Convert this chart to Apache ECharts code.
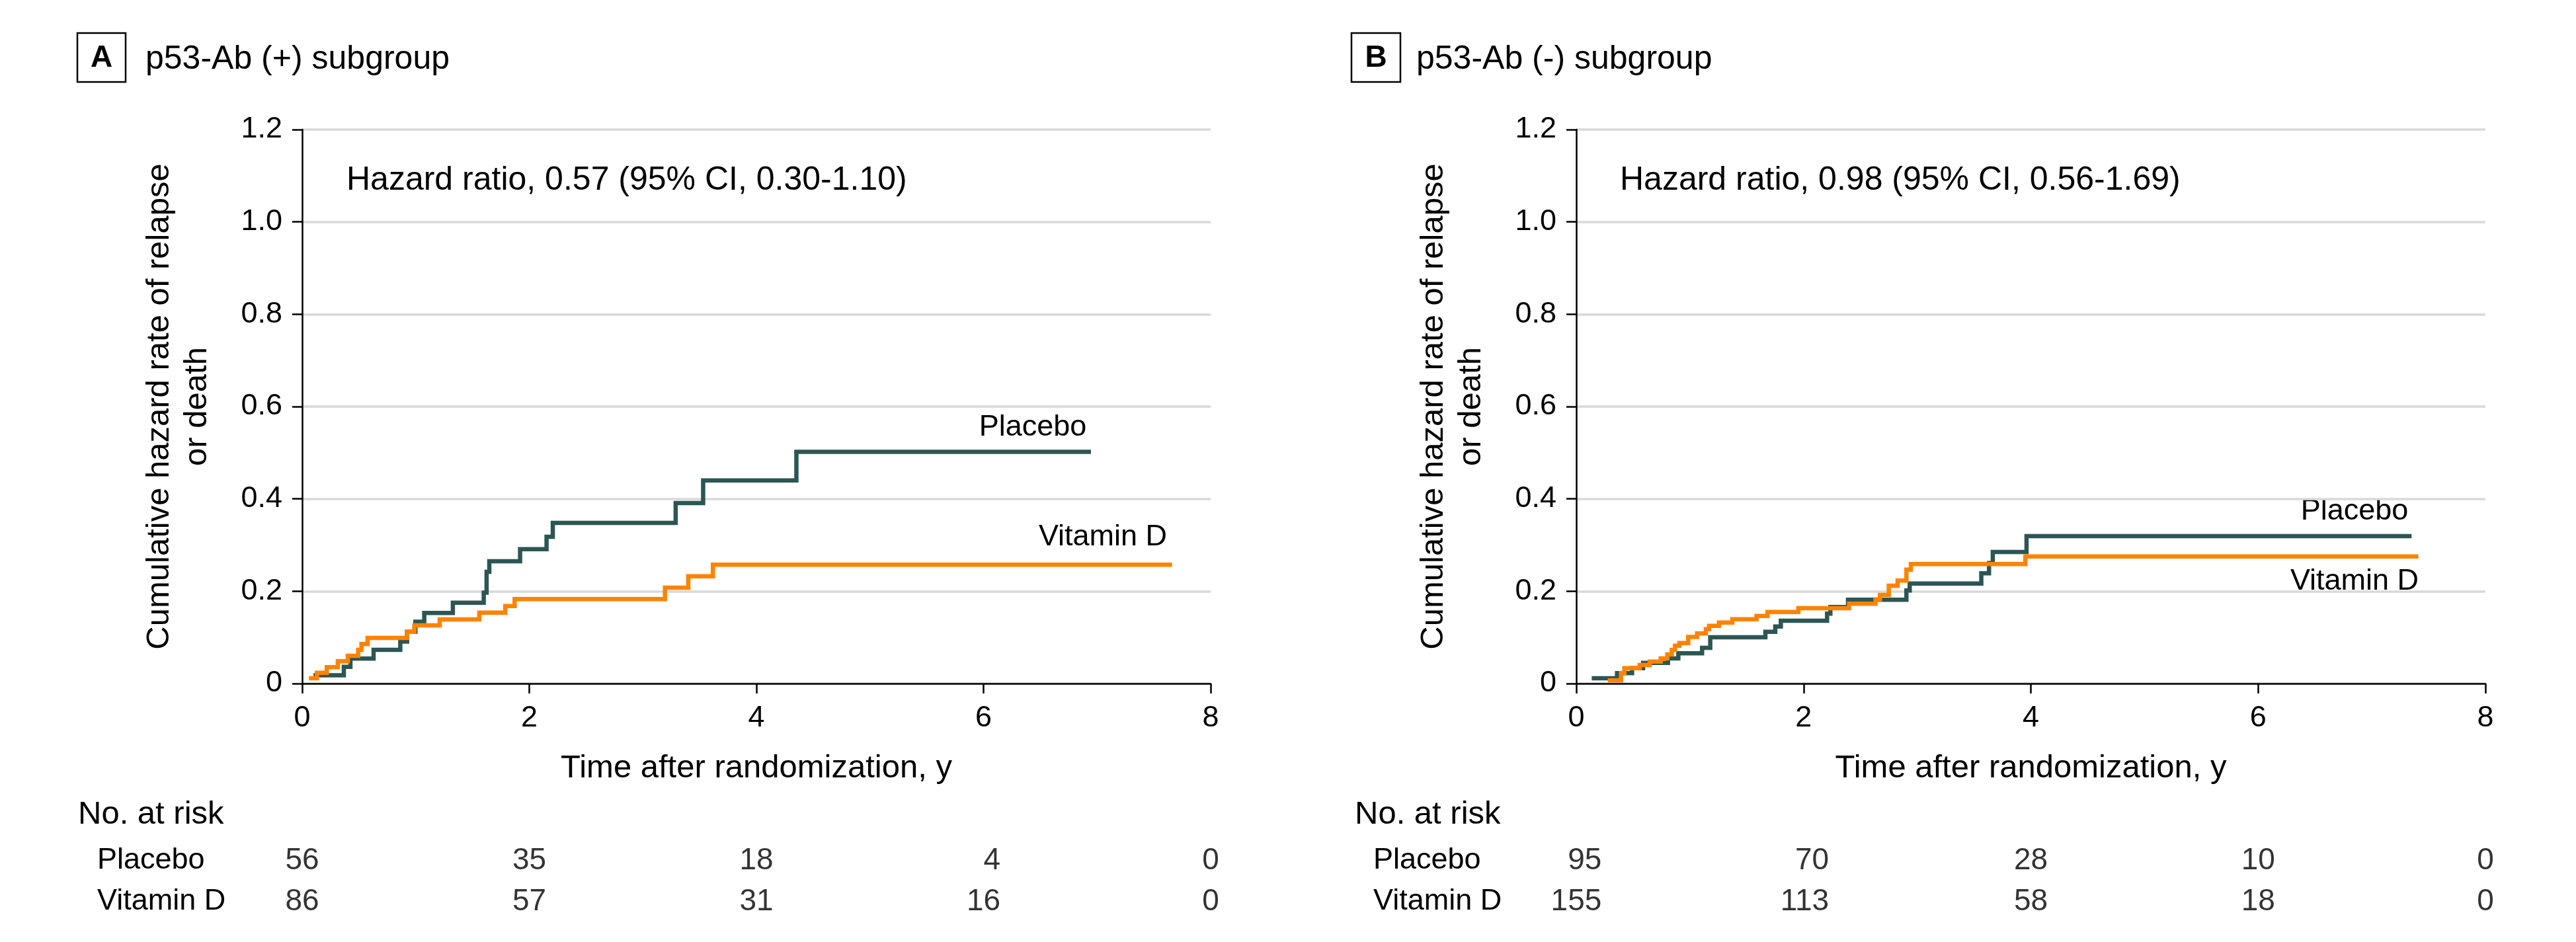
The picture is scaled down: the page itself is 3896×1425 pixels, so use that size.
<!DOCTYPE html>
<html><head><meta charset="utf-8">
<script src="https://cdn.jsdelivr.net/npm/echarts@6/dist/echarts.min.js"></script>
<style>html,body{margin:0;padding:0;background:#fff}#c{width:3896px;height:1425px}</style>
</head><body><div id="c"></div>
<script>
// ---- data ----
const xTickLabels = ['0', '2', '4', '6', '8'];
const yTickLabels = ['0', '0.2', '0.4', '0.6', '0.8', '1.0', '1.2'];
const riskTimes = [0, 2, 4, 6, 8];
const riskGroups = ['Placebo', 'Vitamin D'];

// Panel A: p53-Ab (+)
const aPlaceboT = [0.10, 0.367, 0.425, 0.629, 0.864, 0.924, 0.997, 1.075, 1.327, 1.599, 1.624, 1.648, 1.919, 2.152, 2.207, 3.289, 3.531, 4.352, 6.946];
const aPlaceboH = [0.018, 0.036, 0.054, 0.073, 0.091, 0.112, 0.134, 0.153, 0.175, 0.197, 0.242, 0.265, 0.291, 0.318, 0.348, 0.391, 0.440, 0.502, 0.502];
const aVitT = [0.06, 0.13, 0.217, 0.314, 0.402, 0.493, 0.522, 0.576, 0.924, 0.988, 1.211, 1.560, 1.789, 1.871, 3.195, 3.40, 3.617, 7.66];
const aVitH = [0.0115, 0.0234, 0.0353, 0.0482, 0.0601, 0.073, 0.0855, 0.0988, 0.112, 0.126, 0.139, 0.1537, 0.168, 0.183, 0.2076, 0.2325, 0.2573, 0.2573];
const aRiskPlacebo = [56, 35, 18, 4, 0];
const aRiskVit = [86, 57, 31, 16, 0];

// Panel B: p53-Ab (-)
const bPlaceboT = [0.136, 0.359, 0.491, 0.588, 0.807, 0.898, 1.107, 1.179, 1.664, 1.751, 1.80, 2.207, 2.236, 2.391, 2.905, 2.934, 3.564, 3.632, 3.665, 3.962, 7.35];
const bPlaceboH = [0.0115, 0.0224, 0.0334, 0.0448, 0.0544, 0.0654, 0.0774, 0.1002, 0.1122, 0.1236, 0.136, 0.1513, 0.1656, 0.1814, 0.2014, 0.2167, 0.2387, 0.261, 0.285, 0.3193, 0.3193];
const bVitT = [0.277, 0.394, 0.423, 0.558, 0.646, 0.743, 0.801, 0.84, 0.869, 0.907, 0.985, 1.063, 1.14, 1.169, 1.256, 1.373, 1.586, 1.683, 1.954, 2.401, 2.633, 2.672, 2.75, 2.827, 2.905, 2.944, 3.952, 7.41];
const bVitH = [0.0067, 0.0224, 0.0334, 0.0401, 0.0477, 0.0544, 0.063, 0.0725, 0.082, 0.0878, 0.1011, 0.1083, 0.1178, 0.125, 0.1322, 0.1394, 0.1465, 0.1551, 0.1632, 0.1728, 0.1823, 0.1919, 0.2119, 0.2229, 0.2467, 0.2587, 0.2754, 0.2754];
const bRiskPlacebo = [95, 70, 28, 10, 0];
const bRiskVit = [155, 113, 58, 18, 0];

// ---- styling ----
const FONT = "'Liberation Sans', Arial, sans-serif";
const C_PLA = '#2c5654';
const C_VIT = '#ff8300';
const NUM_SIZE = 46;

const chart = echarts.init(document.getElementById('c'), null, {renderer: 'canvas'});

const zip = (t, h) => t.map((v, i) => [v, h[i]]);

function plotX(gi) {
  return {
    type: 'value', gridIndex: gi, min: 0, max: 8, interval: 2,
    axisLine: {show: true, lineStyle: {color: '#000', width: 2.5}},
    axisTick: {show: true, length: 15, lineStyle: {color: '#000', width: 2.5}},
    axisLabel: {fontSize: 45, fontFamily: FONT, color: '#000', margin: 30,
      formatter: v => xTickLabels[Math.round(v / 2)]},
    splitLine: {show: false},
    name: 'Time after randomization, y', nameLocation: 'middle', nameGap: 104,
    nameTextStyle: {fontSize: 49, fontFamily: FONT, color: '#000'}
  };
}
function plotY(gi) {
  return {
    type: 'value', gridIndex: gi, min: 0, max: 1.2, interval: 0.2,
    axisLine: {show: true, lineStyle: {color: '#000', width: 2.5}},
    axisTick: {show: true, length: 15, lineStyle: {color: '#000', width: 2.5}},
    axisLabel: {fontSize: 45, fontFamily: FONT, color: '#000', margin: 30,
      formatter: v => yTickLabels[Math.round(v / 0.2)]},
    splitLine: {show: true, lineStyle: {color: '#d9d9d9', width: 3.5}},
    name: 'Cumulative hazard rate of relapse\nor death', nameLocation: 'middle', nameRotate: 90, nameGap: 130,
    nameTextStyle: {fontSize: 49, fontFamily: FONT, color: '#000', lineHeight: 57, align: 'center'}
  };
}
function riskX(gi) {
  return {type: 'value', gridIndex: gi, min: 0, max: 8, interval: 2, show: false};
}
function riskY(gi, margin) {
  return {
    type: 'category', gridIndex: gi, data: riskGroups, inverse: true,
    axisLine: {show: false}, axisTick: {show: false}, splitLine: {show: false},
    axisLabel: {fontSize: 45, fontFamily: FONT, color: '#000', align: 'left', margin: margin}
  };
}
function curve(xi, t, h, color, z) {
  return {
    type: 'line', xAxisIndex: xi, yAxisIndex: xi, step: 'end', showSymbol: false, silent: true,
    data: zip(t, h), lineStyle: {color: color, width: 6.5, cap: 'butt', join: 'miter'},
    itemStyle: {color: color}, z: z, animation: false
  };
}
function riskSeries(xi, pla, vit) {
  const data = [];
  riskTimes.forEach((t, i) => {
    const maxLen = Math.max(String(pla[i]).length, String(vit[i]).length);
    const off = maxLen * 0.556 * NUM_SIZE / 2;
    data.push({value: [t, 0, pla[i]], label: {offset: [off, 0]}});
    data.push({value: [t, 1, vit[i]], label: {offset: [off, 0]}});
  });
  return {
    type: 'scatter', xAxisIndex: xi, yAxisIndex: xi, symbolSize: 1, silent: true,
    itemStyle: {color: 'rgba(0,0,0,0)'}, animation: false,
    label: {show: true, position: 'inside', align: 'right', verticalAlign: 'middle',
      fontSize: NUM_SIZE, fontFamily: FONT, color: '#000', formatter: p => String(p.value[2])},
    data: data
  };
}

function txt(x, y, s, size, opts) {
  return {type: 'text', x: x, y: y,
    style: Object.assign({text: s, fontSize: size, fontFamily: FONT, fill: '#000',
      textAlign: 'left', textVerticalAlign: 'middle'}, (opts && opts.style) || {})};
}

const option = {
  backgroundColor: '#fff',
  animation: false,
  grid: [
    {left: 457, top: 196, width: 1374, height: 838},
    {left: 2384, top: 196, width: 1375, height: 838},
    {left: 457, top: 1271, width: 1374, height: 124},
    {left: 2384, top: 1271, width: 1375, height: 124}
  ],
  xAxis: [plotX(0), plotX(1), riskX(2), riskX(3)],
  yAxis: [plotY(0), plotY(1), riskY(2, 457 - 147), riskY(3, 2384 - 2077)],
  series: [
    curve(0, aPlaceboT, aPlaceboH, C_PLA, 3),
    curve(0, aVitT, aVitH, C_VIT, 4),
    curve(1, bPlaceboT, bPlaceboH, C_PLA, 3),
    curve(1, bVitT, bVitH, C_VIT, 4),
    riskSeries(2, aRiskPlacebo, aRiskVit),
    riskSeries(3, bRiskPlacebo, bRiskVit)
  ],
  graphic: [
    {type: 'rect', shape: {x: 117, y: 50, width: 73, height: 74}, style: {fill: 'none', stroke: '#000', lineWidth: 2.5}},
    txt(153.5, 88, 'A', 46, {style: {fontWeight: 'bold', textAlign: 'center'}}),
    txt(220, 90, 'p53-Ab (+) subgroup', 50),
    {type: 'rect', shape: {x: 2044, y: 50, width: 74, height: 74}, style: {fill: 'none', stroke: '#000', lineWidth: 2.5}},
    txt(2081, 88, 'B', 46, {style: {fontWeight: 'bold', textAlign: 'center'}}),
    txt(2142, 90, 'p53-Ab (-) subgroup', 50),
    txt(524, 273, 'Hazard ratio, 0.57 (95% CI, 0.30-1.10)', 50),
    txt(2450, 273, 'Hazard ratio, 0.98 (95% CI, 0.56-1.69)', 50),
    txt(1562, 647, 'Placebo', 45, {style: {textAlign: 'center'}}),
    txt(1668, 813, 'Vitamin D', 45, {style: {textAlign: 'center'}}),
    txt(3561, 774, 'Placebo', 45, {style: {textAlign: 'center'}}),
    txt(3561, 880, 'Vitamin D', 45, {style: {textAlign: 'center'}}),
    txt(118, 1232, 'No. at risk', 49),
    txt(2049, 1232, 'No. at risk', 49)
  ]
};
chart.setOption(option);
</script></body></html>
